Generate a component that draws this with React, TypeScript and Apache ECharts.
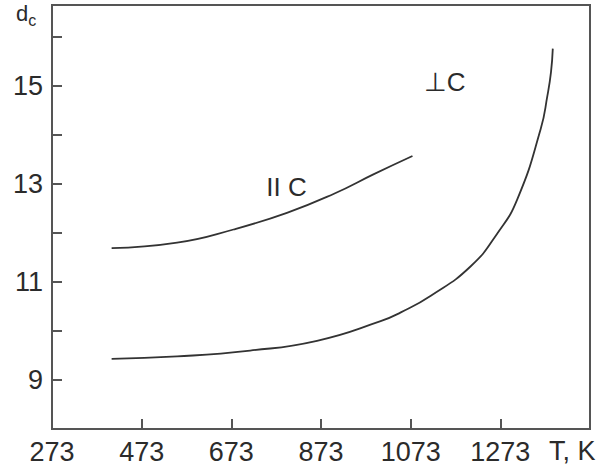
import React, { useEffect, useRef } from "react";
import * as echarts from "echarts";

const perpT = [406, 552, 715, 864, 1006, 1051, 1118, 1207, 1267, 1311, 1363, 1378, 1386, 1390];
const perpD = [9.43, 9.48, 9.6, 9.8, 10.2, 10.38, 10.72, 11.32, 12.0, 12.69, 14.12, 14.8, 15.28, 15.76];
const parT = [406, 552, 678, 797, 902, 991, 1077];
const parD = [11.69, 11.8, 12.07, 12.41, 12.8, 13.2, 13.57];
const xLabelValues = [273, 473, 673, 873, 1073, 1273];
const xTickValues = [473, 673, 873, 1073, 1273];
const yLabelValues = [9, 11, 13, 15];
const yTickValues = [9, 10, 11, 12, 13, 14, 15, 16];
const parLabel = { text: "II C", T: 796, d: 12.94 };
const perpLabel = { text: "⊥C", T: 1149, d: 15.08 };

const FONT = "'Liberation Sans', Arial, sans-serif";
const TEXT = "#2b2b2b";
const AXIS = "#555555";
const LINE = "#333333";

export default function App() {
  const ref = useRef<HTMLDivElement>(null);
  useEffect(() => {
    if (!ref.current) return;
    const chart = echarts.init(ref.current, undefined, { renderer: "svg" });
    const mk = (lab: { text: string; T: number; d: number }) => ({
      symbol: "circle",
      symbolSize: 0,
      silent: true,
      label: {
        show: true,
        position: "inside",
        formatter: lab.text,
        color: TEXT,
        fontFamily: FONT,
        fontSize: 26,
      },
      data: [{ coord: [lab.T, lab.d] }],
    });
    chart.setOption({
      animation: false,
      backgroundColor: "#ffffff",
      grid: {
        left: 52,
        top: 5,
        right: 12,
        bottom: 42,
        show: true,
        borderColor: AXIS,
        borderWidth: 2,
        backgroundColor: "transparent",
      },
      xAxis: {
        type: "value",
        min: 273,
        max: 1473,
        axisLine: { show: true, lineStyle: { color: AXIS, width: 2 } },
        splitLine: { show: false },
        axisTick: {
          show: true,
          inside: true,
          length: 10,
          customValues: xTickValues,
          lineStyle: { color: AXIS, width: 2 },
        },
        axisLabel: {
          show: true,
          customValues: xLabelValues,
          formatter: (v: number) => String(v),
          color: TEXT,
          fontFamily: FONT,
          fontSize: 27,
          margin: 9,
        },
      },
      yAxis: {
        type: "value",
        min: 8,
        max: 16.65,
        axisLine: { show: true, lineStyle: { color: AXIS, width: 2 } },
        splitLine: { show: false },
        axisTick: {
          show: true,
          inside: true,
          length: 10,
          customValues: yTickValues,
          lineStyle: { color: AXIS, width: 2 },
        },
        axisLabel: {
          show: true,
          customValues: yLabelValues,
          formatter: (v: number) => String(v),
          color: TEXT,
          fontFamily: FONT,
          fontSize: 27,
          margin: 9,
        },
      },
      graphic: [
        {
          type: "text",
          left: 16,
          top: 2,
          style: {
            text: "{d|d}{c|c}",
            rich: {
              d: { fontSize: 22, fontFamily: FONT, fill: TEXT, verticalAlign: "top" },
              c: { fontSize: 16, fontFamily: FONT, fill: TEXT, padding: [10, 0, 0, 0] },
            },
          },
        },
        {
          type: "text",
          left: 549,
          top: 437,
          style: { text: "T, K", fontSize: 27, fontFamily: FONT, fill: TEXT },
        },
      ],
      series: [
        {
          type: "line",
          data: perpT.map((t, i) => [t, perpD[i]]),
          smooth: 0.5,
          showSymbol: false,
          lineStyle: { color: LINE, width: 1.8 },
          markPoint: mk(perpLabel),
        },
        {
          type: "line",
          data: parT.map((t, i) => [t, parD[i]]),
          smooth: 0.5,
          showSymbol: false,
          lineStyle: { color: LINE, width: 1.8 },
          markPoint: mk(parLabel),
        },
      ],
    });
    return () => chart.dispose();
  }, []);
  return (
    <div
      ref={ref}
      style={{ position: "fixed", left: 0, top: 0, width: 602, height: 471, background: "#fff" }}
    />
  );
}
